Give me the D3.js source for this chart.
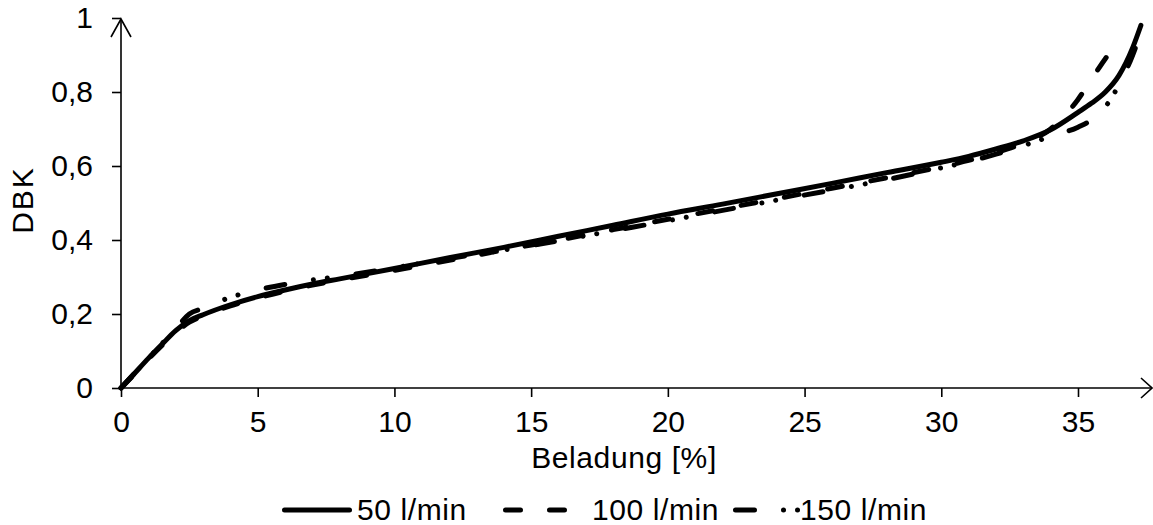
<!DOCTYPE html>
<html>
<head>
<meta charset="utf-8">
<script src="https://cdn.jsdelivr.net/npm/d3@7"></script>
<style>
  html, body { margin: 0; padding: 0; background: #fff; }
  svg text { font-family: "Liberation Sans", Arial, sans-serif; fill: #000; }
</style>
</head>
<body>
<div id="chart"></div>
<script>
// Beladung [%] -> DBK, one array pair per flow rate
var x50  = [0, 0.5, 1, 1.5, 2, 2.5, 3, 4, 5, 6, 7, 8, 10, 12, 14, 16, 18, 20, 22, 24, 26, 28, 30, 31, 32, 33, 34, 35, 35.5, 36, 36.5, 37, 37.3];
var y50  = [0, 0.04, 0.08, 0.118, 0.155, 0.182, 0.198, 0.225, 0.247, 0.265, 0.281, 0.295, 0.323, 0.352, 0.38, 0.41, 0.44, 0.47, 0.497, 0.525, 0.553, 0.582, 0.61, 0.626, 0.646, 0.668, 0.698, 0.745, 0.77, 0.8, 0.845, 0.92, 0.98];

var x100 = [0, 0.5, 1, 1.5, 2, 2.5, 3, 4, 5, 6, 7, 8, 10, 12, 14, 16, 18, 20, 22, 24, 26, 28, 30, 31, 32, 33, 34, 34.5, 35, 35.5, 36, 36.1];
var y100 = [0, 0.038, 0.078, 0.115, 0.15, 0.178, 0.195, 0.222, 0.243, 0.262, 0.278, 0.292, 0.318, 0.345, 0.373, 0.4, 0.428, 0.456, 0.484, 0.512, 0.54, 0.568, 0.598, 0.615, 0.636, 0.662, 0.7, 0.735, 0.78, 0.835, 0.89, 0.9];

var x150 = [0, 0.5, 1, 1.5, 2, 2.5, 3, 4, 5, 6, 7, 8, 10, 12, 14, 16, 18, 20, 22, 24, 26, 28, 30, 31, 32, 33, 34, 35, 35.6, 36, 36.5, 37, 37.2];
var y150 = [0, 0.04, 0.08, 0.12, 0.16, 0.2, 0.215, 0.245, 0.265, 0.28, 0.292, 0.302, 0.325, 0.35, 0.373, 0.398, 0.425, 0.452, 0.48, 0.508, 0.535, 0.563, 0.595, 0.612, 0.632, 0.655, 0.68, 0.705, 0.73, 0.76, 0.82, 0.9, 0.94];

var seriesNames = ["50 l/min", "100 l/min", "150 l/min"];
var xTicks = [0, 5, 10, 15, 20, 25, 30, 35];
var yTicks = [0, 0.2, 0.4, 0.6, 0.8, 1];

var width = 1153, height = 525;
var fs = 30;

var svg = d3.select("#chart").append("svg")
  .attr("width", width)
  .attr("height", height);

var x = d3.scaleLinear().domain([0, 35]).range([121, 1078]);
var y = d3.scaleLinear().domain([0, 1]).range([388, 18]);

var fmt = function(d) { return String(d).replace(".", ","); };

// axes
var xAxis = svg.append("g")
  .attr("transform", "translate(0," + y(0) + ")")
  .call(d3.axisBottom(x).tickValues(xTicks).tickSize(9).tickPadding(14).tickFormat(fmt));
var yAxis = svg.append("g")
  .attr("transform", "translate(" + x(0) + ",0)")
  .call(d3.axisLeft(y).tickValues(yTicks).tickSize(9).tickPadding(19).tickFormat(fmt));

[xAxis, yAxis].forEach(function(g) {
  g.select(".domain").remove();
  g.selectAll(".tick line").attr("stroke", "#000").attr("stroke-width", 1.6);
  g.selectAll(".tick text")
    .style("font-size", fs + "px")
    .attr("fill", "#000");
});

// axis lines with open arrow heads
var ax = svg.append("g").attr("fill", "none").attr("stroke", "#000").attr("stroke-width", 1.6);
ax.append("line").attr("x1", x(0)).attr("y1", y(0)).attr("x2", 1152).attr("y2", y(0));
ax.append("path").attr("d", "M1141," + (y(0) - 10) + "L1152," + y(0) + "L1141," + (y(0) + 10));
ax.append("line").attr("x1", x(0)).attr("y1", y(0)).attr("x2", x(0)).attr("y2", 19);
ax.append("path").attr("d", "M" + (x(0) - 10) + ",37L" + x(0) + ",19L" + (x(0) + 10) + ",37");

// axis titles
svg.append("text")
  .attr("x", 624).attr("y", 468)
  .attr("text-anchor", "middle")
  .style("font-size", fs + "px")
  .style("letter-spacing", "0.6px")
  .text("Beladung [%]");
svg.append("text")
  .attr("transform", "translate(33,200) rotate(-90)")
  .attr("text-anchor", "middle")
  .style("font-size", fs + "px")
  .style("letter-spacing", "2px")
  .text("DBK");

// series
var dashes = [null, "15,29", "19,29,0.01,14,0.01,29"];
var series = [
  { xs: x50, ys: y50 },
  { xs: x100, ys: y100 },
  { xs: x150, ys: y150 }
];

var line = d3.line()
  .x(function(d) { return x(d[0]); })
  .y(function(d) { return y(d[1]); })
  .curve(d3.curveMonotoneX);

series.forEach(function(s, i) {
  var pts = s.xs.map(function(v, j) { return [v, s.ys[j]]; });
  svg.append("path")
    .datum(pts)
    .attr("fill", "none")
    .attr("stroke", "#000")
    .attr("stroke-width", 5)
    .attr("stroke-linecap", "round")
    .attr("stroke-linejoin", "round")
    .attr("stroke-dasharray", dashes[i])
    .attr("d", line);
});

// legend
var legendItems = [
  { x0: 284.5, x1: 349.5, tx: 357 },
  { x0: 505.5, x1: 566, tx: 592 },
  { x0: 735.5, x1: 798, tx: 800 }
];
var lg = svg.append("g").attr("transform", "translate(0,510)");
legendItems.forEach(function(it, i) {
  lg.append("line")
    .attr("x1", it.x0).attr("x2", it.x1)
    .attr("y1", 0).attr("y2", 0)
    .attr("stroke", "#000")
    .attr("stroke-width", 5)
    .attr("stroke-linecap", "round")
    .attr("stroke-dasharray", dashes[i]);
  lg.append("text")
    .attr("x", it.tx).attr("y", 10)
    .style("font-size", fs + "px")
    .style("letter-spacing", "0.6px")
    .text(seriesNames[i]);
});
</script>
</body>
</html>
